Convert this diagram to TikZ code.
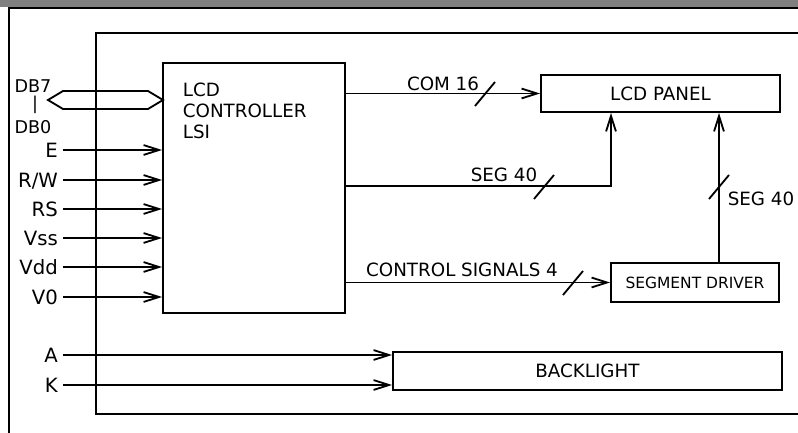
\documentclass[tikz,border=0pt]{standalone}
\usepackage{fontspec}
\setmainfont{DejaVu Sans}
\usetikzlibrary{arrows.meta}

\tikzset{
  blk/.style={draw, inner sep=0pt, font=\fontsize{13}{15}\selectfont},
  lbl/.style={inner sep=0pt, font=\fontsize{13}{15}\selectfont},
  pin/.style={anchor=east, inner sep=3pt, text height=10pt, text depth=0pt, font=\fontsize{14}{16}\selectfont},
}

\begin{document}
\begin{tikzpicture}[x=0.025cm, y=-0.025cm, line width=1.3pt, >={Straight Barb[length=11pt,width=7pt]}]
	\useasboundingbox (0,0) rectangle (798,433);
	% window edge
	\fill[gray] (0,0) rectangle (798,7);
	\draw (9,433) -- (9,8) -- (798,8);
	% module outline
	\draw (798,33) -- (96,33) -- (96,414) -- (798,414);

	\node[blk, minimum width=4.55cm, minimum height=6.25cm] (ctrl) at (254,188) {};
	\node[lbl, anchor=north west, align=left] (ctrltxt) at (182,82) {LCD\\CONTROLLER\\LSI};
	\node[blk, minimum width=5.975cm, minimum height=0.925cm] (panel) at (660.5,93.5) {LCD PANEL};
	\node[blk, minimum width=4.2cm, minimum height=0.975cm, font=\fontsize{11}{13}\selectfont] (segdrv) at (695,282.5) {SEGMENT DRIVER};
	\node[blk, minimum width=9.725cm, minimum height=0.95cm] (back) at (587.5,371) {BACKLIGHT};

	% data bus
	\draw (163,100) -- (148,91) -- (63,91) -- (48,100) -- (63,109) -- (148,109) -- cycle;
	\node[lbl, font=\fontsize{12.5}{14}\selectfont] (db7) at (33,86) {DB7};
	\node[lbl, font=\fontsize{12.5}{14}\selectfont] (dbbar) at (35,105) {|};
	\node[lbl, font=\fontsize{12.5}{14}\selectfont] (db0) at (33,127) {DB0};

	% control inputs
	\foreach \nm/\txt/\yy in {e/E/150, rw/{R/W}/180, rs/RS/209, vss/Vss/238, vdd/Vdd/267, vo/V0/297} {
		\node[pin] (\nm) at (63,\yy) {\txt};
		\draw[->] (\nm) -- (ctrl.west |- \nm);
	}
	\node[pin] (a) at (63,355) {A};
	\node[pin] (k) at (63,385) {K};
	\draw[->] (a) -- (back.west |- a);
	\draw[->] (k) -- (back.west |- k);

	% outputs
	\coordinate (segA) at (611,186);
	\coordinate (segB) at (719,263);
	\draw[->] (ctrl.east |- panel) -- (panel);
	\draw[->] (ctrl.east |- segA) -| (panel.south -| segA);
	\draw[->] (ctrl.east |- segdrv) -- (segdrv);
	\draw[->] (segB) -- (segB |- panel.south);

	\foreach \p in {(485,94),(544,187),(719,187),(573,283)}
		\draw \p ++(-10,12) -- ++(20,-24);

	\node[lbl] (comlbl) at (443,84) {COM 16};
	\node[lbl] (seglbl) at (504,175) {SEG 40};
	\node[lbl] (seglblb) at (761,199) {SEG 40};
	\node[lbl] (ctllbl) at (462,270) {CONTROL SIGNALS 4};
\end{tikzpicture}
\end{document}
